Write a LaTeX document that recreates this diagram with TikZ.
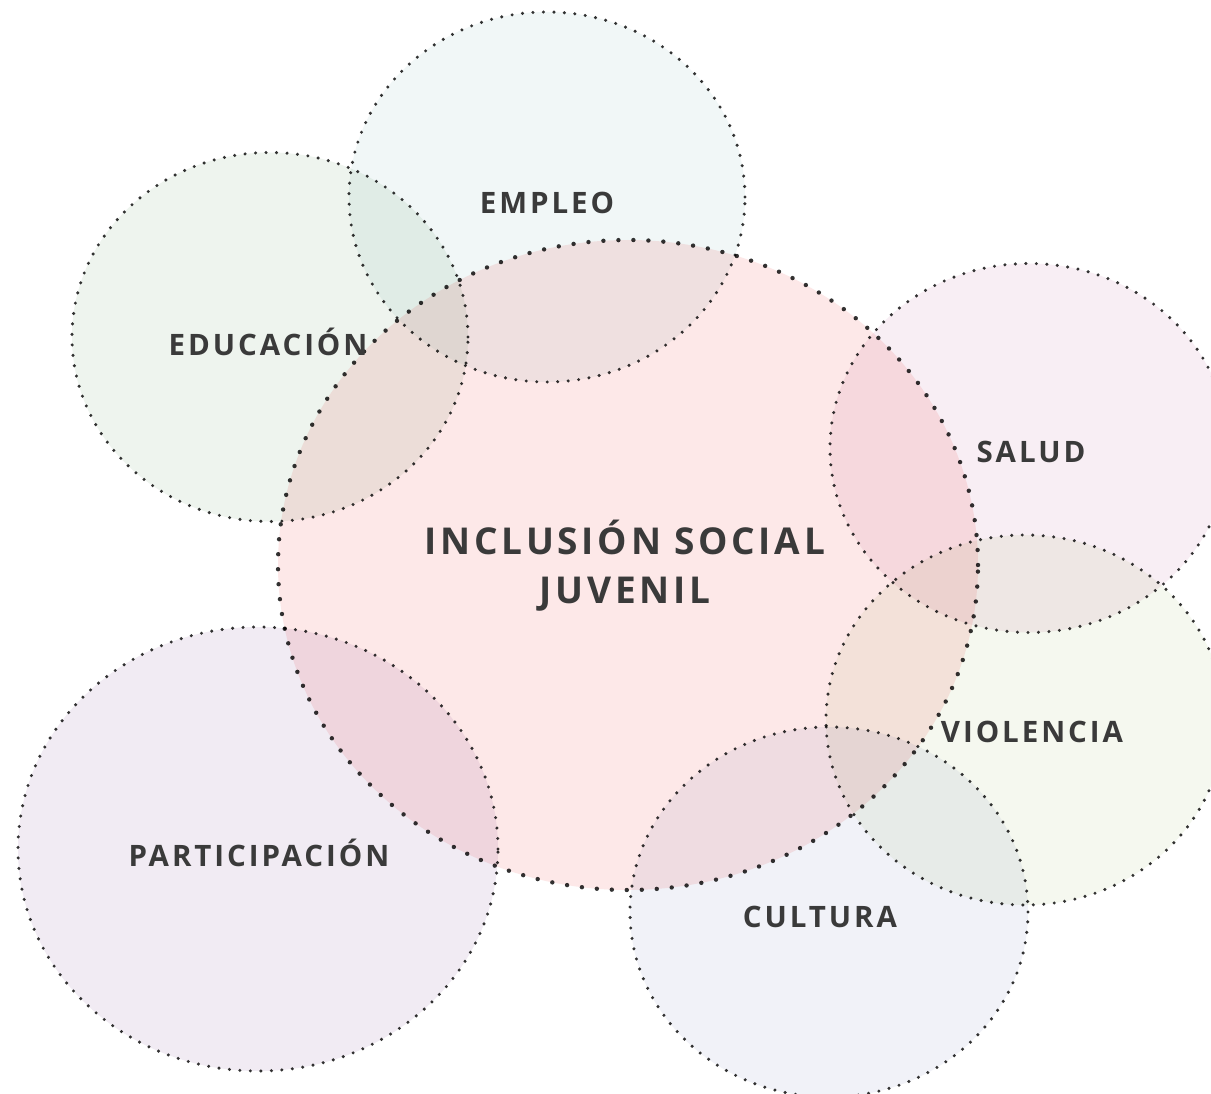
\documentclass[tikz,border=0pt]{standalone}
\usepackage{fontspec}
\setmainfont{Open Sans}[LetterSpace=10]
\usetikzlibrary{shapes.geometric}
\definecolor{cCentral}{HTML}{FDE8E8}
\definecolor{cEmpleo}{HTML}{F1F7F7}
\definecolor{cEduc}{HTML}{EEF4EE}
\definecolor{cSalud}{HTML}{F8EEF4}
\definecolor{cViol}{HTML}{F5F8EF}
\definecolor{cCult}{HTML}{F1F2F8}
\definecolor{cPart}{HTML}{F1EBF3}
\definecolor{dotc}{HTML}{333333}
\definecolor{txt}{HTML}{3A3A3A}
\tikzset{
  ring/.style={ellipse, draw=dotc, inner sep=0pt, outer sep=0pt,
    line width=3.4pt, line cap=round, dash pattern=on 0pt off 10.5pt},
  bigring/.style={ring, line width=4.4pt, dash pattern=on 0pt off 15pt},
  lbl/.style={text=txt, font=\fontsize{29.5}{35}\selectfont\bfseries, inner sep=0pt},
  biglbl/.style={text=txt, font=\fontsize{37}{49}\selectfont\bfseries, inner sep=0pt, align=center},
}
\begin{document}
\begin{tikzpicture}[x=1pt,y=-1pt]
\useasboundingbox (0,0) rectangle (1211,1094);
\clip (0,0) rectangle (1211,1094);
\fill[white] (0,0) rectangle (1211,1094);
\begin{scope}[blend group=multiply]
  \node[bigring, fill=cCentral, minimum width=700pt, minimum height=650pt] (central) at (628,565) {};
  \node[ring, fill=cEmpleo, minimum width=396pt, minimum height=370pt] (rEmpleo) at (547,197) {};
  \node[ring, fill=cEduc, minimum width=396pt, minimum height=369pt] (rEduc) at (270,337) {};
  \node[ring, fill=cSalud, minimum width=398pt, minimum height=369pt] (rSalud) at (1029,448) {};
  \node[ring, fill=cViol, minimum width=398pt, minimum height=370pt] (rViol) at (1025,720) {};
  \node[ring, fill=cCult, minimum width=398pt, minimum height=370pt] (rCult) at (829,912) {};
  \node[ring, fill=cPart, minimum width=480pt, minimum height=444pt] (rPart) at (258,849) {};
\end{scope}
\node[biglbl] (tCentral) at (625,566) {INCLUSIÓN SOCIAL\\JUVENIL};
\node[lbl] (tEmpleo) at (547,203) {EMPLEO};
\node[lbl] (tEduc) at (268,342) {EDUCACIÓN};
\node[lbl] (tSalud) at (1031,452) {SALUD};
\node[lbl] (tViol) at (1032,732) {VIOLENCIA};
\node[lbl] (tCult) at (820,917) {CULTURA};
\node[lbl] (tPart) at (259,853) {PARTICIPACIÓN};
\end{tikzpicture}
\end{document}
